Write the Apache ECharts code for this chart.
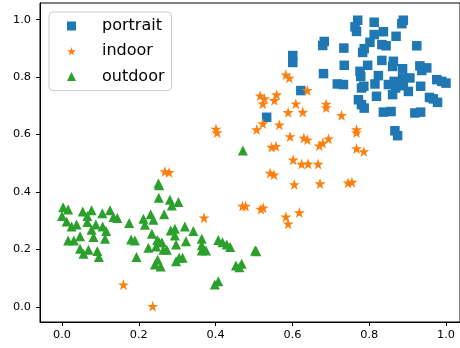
<!DOCTYPE html>
<html>
<head>
<meta charset="utf-8">
<script src="https://cdn.jsdelivr.net/npm/echarts@6/dist/echarts.min.js"></script>
<style>
  html, body { margin: 0; padding: 0; background: #fff; }
  #scatterChart { width: 460px; height: 348px; }
</style>
</head>
<body>
<div id="scatterChart"></div>
<script>
// values, [x, y]
let portrait = [
  [0.770, 0.998], [0.763, 0.975], [0.767, 0.959], [0.813, 0.991], [0.889, 0.998], [0.885, 0.986],
  [0.813, 0.948], [0.837, 0.958], [0.870, 0.942], [0.802, 0.921], [0.683, 0.924], [0.679, 0.910],
  [0.734, 0.901], [0.787, 0.899], [0.783, 0.886], [0.833, 0.913], [0.844, 0.909], [0.924, 0.909],
  [0.601, 0.875], [0.601, 0.851], [0.735, 0.841], [0.796, 0.841], [0.833, 0.858], [0.863, 0.855],
  [0.861, 0.837], [0.887, 0.829], [0.932, 0.839], [0.950, 0.832], [0.937, 0.823], [0.681, 0.812],
  [0.776, 0.820], [0.778, 0.802], [0.824, 0.805], [0.717, 0.776], [0.733, 0.774], [0.815, 0.776],
  [0.850, 0.774], [0.865, 0.785], [0.887, 0.797], [0.906, 0.797], [0.889, 0.770], [0.780, 0.762],
  [0.786, 0.768], [0.869, 0.762], [0.902, 0.750], [0.934, 0.768], [0.976, 0.791], [0.989, 0.785],
  [1.000, 0.779], [0.861, 0.739], [0.819, 0.733], [0.622, 0.753], [0.772, 0.721], [0.780, 0.704],
  [0.787, 0.692], [0.957, 0.729], [0.967, 0.724], [0.978, 0.712], [0.837, 0.678], [0.857, 0.680],
  [0.919, 0.675], [0.934, 0.678], [0.533, 0.660], [0.867, 0.613], [0.874, 0.596]
]
let indoor = [
  [0.583, 0.808], [0.592, 0.797], [0.639, 0.754], [0.516, 0.735], [0.527, 0.725], [0.523, 0.707],
  [0.559, 0.739], [0.553, 0.719], [0.609, 0.707], [0.688, 0.706], [0.688, 0.694], [0.589, 0.677],
  [0.627, 0.678], [0.728, 0.667], [0.523, 0.638], [0.507, 0.617], [0.566, 0.634], [0.594, 0.593],
  [0.630, 0.588], [0.639, 0.582], [0.694, 0.585], [0.767, 0.617], [0.767, 0.607], [0.546, 0.556],
  [0.557, 0.559], [0.670, 0.561], [0.679, 0.570], [0.767, 0.551], [0.786, 0.541], [0.602, 0.512],
  [0.624, 0.497], [0.641, 0.498], [0.667, 0.497], [0.542, 0.466], [0.552, 0.460], [0.401, 0.619],
  [0.404, 0.607], [0.268, 0.471], [0.279, 0.468], [0.370, 0.310], [0.160, 0.077], [0.236, 0.002],
  [0.605, 0.426], [0.672, 0.429], [0.745, 0.432], [0.755, 0.434], [0.470, 0.351], [0.478, 0.351],
  [0.518, 0.340], [0.524, 0.345], [0.583, 0.313], [0.589, 0.289], [0.618, 0.328]
]
let outdoor = [
  [0.251, 0.429], [0.253, 0.423], [0.252, 0.380], [0.281, 0.373], [0.286, 0.353], [0.303, 0.365],
  [0.003, 0.347], [0.016, 0.339], [0.000, 0.316], [0.012, 0.297], [0.025, 0.280], [0.038, 0.287],
  [0.054, 0.332], [0.077, 0.336], [0.066, 0.316], [0.066, 0.295], [0.088, 0.287], [0.077, 0.268],
  [0.105, 0.326], [0.125, 0.336], [0.134, 0.313], [0.144, 0.309], [0.106, 0.280], [0.115, 0.264],
  [0.112, 0.237], [0.082, 0.243], [0.047, 0.246], [0.016, 0.231], [0.031, 0.231], [0.047, 0.202],
  [0.056, 0.185], [0.069, 0.199], [0.092, 0.194], [0.096, 0.173], [0.175, 0.292], [0.180, 0.234],
  [0.190, 0.231], [0.194, 0.173], [0.212, 0.307], [0.216, 0.286], [0.231, 0.322], [0.238, 0.303],
  [0.266, 0.322], [0.234, 0.254], [0.225, 0.206], [0.248, 0.233], [0.253, 0.225], [0.260, 0.225],
  [0.245, 0.210], [0.264, 0.199], [0.273, 0.199], [0.249, 0.164], [0.242, 0.147], [0.257, 0.140],
  [0.283, 0.266], [0.294, 0.272], [0.294, 0.248], [0.297, 0.217], [0.305, 0.171], [0.314, 0.171],
  [0.297, 0.159], [0.323, 0.228], [0.320, 0.280], [0.342, 0.264], [0.364, 0.237], [0.364, 0.214],
  [0.364, 0.196], [0.375, 0.196], [0.407, 0.233], [0.418, 0.225], [0.429, 0.217], [0.398, 0.078],
  [0.407, 0.089], [0.438, 0.208], [0.503, 0.196], [0.506, 0.193], [0.453, 0.144], [0.468, 0.150],
  [0.462, 0.138], [0.471, 0.544]
]
let seriesNames = ['portrait', 'indoor', 'outdoor']
let xTicks = [0.0, 0.2, 0.4, 0.6, 0.8, 1.0]
let yTicks = [0.0, 0.2, 0.4, 0.6, 0.8, 1.0]

// marker shapes like matplotlib 's', '*', '^'
function starPath () {
  let pts = []
  for (let i = 0; i < 10; i++) {
    let r = i % 2 === 0 ? 1 : 0.381966
    let a = Math.PI / 2 + i * Math.PI / 5
    pts.push((r * Math.cos(a)).toFixed(4) + ',' + (-r * Math.sin(a)).toFixed(4))
  }
  return 'path://M' + pts.join('L') + 'Z'
}
let squareIcon = 'path://M0,0L1,0L1,1L0,1Z'
let starIcon = starPath()
let triangleIcon = 'path://M0,-1L1,1L-1,1Z'

let font = 'DejaVu Sans'
let myChart = echarts.init(document.getElementById('scatterChart'), null, {renderer: 'canvas'})

let axisCommon = {
  type: 'value',
  splitLine: {show: false},
  axisLine: {show: true, onZero: false, lineStyle: {color: '#000', width: 1}},
  axisTick: {show: true, length: 4, lineStyle: {color: '#000', width: 1}},
  axisLabel: {
    color: '#000',
    fontFamily: font,
    fontSize: 11.3,
    formatter: (v) => v.toFixed(1)
  }
}

myChart.setOption({
  animation: false,
  backgroundColor: '#fff',
  grid: {
    show: true,
    left: 40,
    right: 0,
    top: 3,
    bottom: 26,
    borderColor: '#000',
    borderWidth: 1
  },
  legend: {
    data: [
      {name: 'portrait', icon: squareIcon},
      {name: 'indoor', icon: starIcon},
      {name: 'outdoor', icon: triangleIcon}
    ],
    orient: 'vertical',
    left: 49,
    top: 12,
    itemWidth: 9,
    itemHeight: 9,
    itemGap: 9.3,
    padding: [6, 7, 6, 18],
    backgroundColor: 'rgba(255,255,255,0.8)',
    borderColor: '#cccccc',
    borderWidth: 1,
    borderRadius: 4,
    itemStyle: {opacity: 1},
    textStyle: {
      color: '#000',
      fontFamily: font,
      fontSize: 16,
      lineHeight: 16,
      padding: [0, 0, 0, 21]
    }
  },
  xAxis: Object.assign({}, axisCommon, {
    min: -0.0573,
    max: 1.0365,
    axisTick: Object.assign({}, axisCommon.axisTick, {customValues: xTicks}),
    axisLabel: Object.assign({}, axisCommon.axisLabel, {customValues: xTicks, margin: 8})
  }),
  yAxis: Object.assign({}, axisCommon, {
    min: -0.053,
    max: 1.058,
    axisTick: Object.assign({}, axisCommon.axisTick, {customValues: yTicks}),
    axisLabel: Object.assign({}, axisCommon.axisLabel, {customValues: yTicks, margin: 9})
  }),
  series: [
    {
      name: seriesNames[0],
      type: 'scatter',
      symbol: squareIcon,
      symbolSize: 9.5,
      itemStyle: {color: '#1f77b4', opacity: 1},
      data: portrait
    },
    {
      name: seriesNames[1],
      type: 'scatter',
      symbol: starIcon,
      symbolSize: 11,
      itemStyle: {color: '#ff7f0e', opacity: 1},
      data: indoor
    },
    {
      name: seriesNames[2],
      type: 'scatter',
      symbol: triangleIcon,
      symbolSize: 10,
      itemStyle: {color: '#2ca02c', opacity: 1},
      data: outdoor
    }
  ]
})
</script>
</body>
</html>
